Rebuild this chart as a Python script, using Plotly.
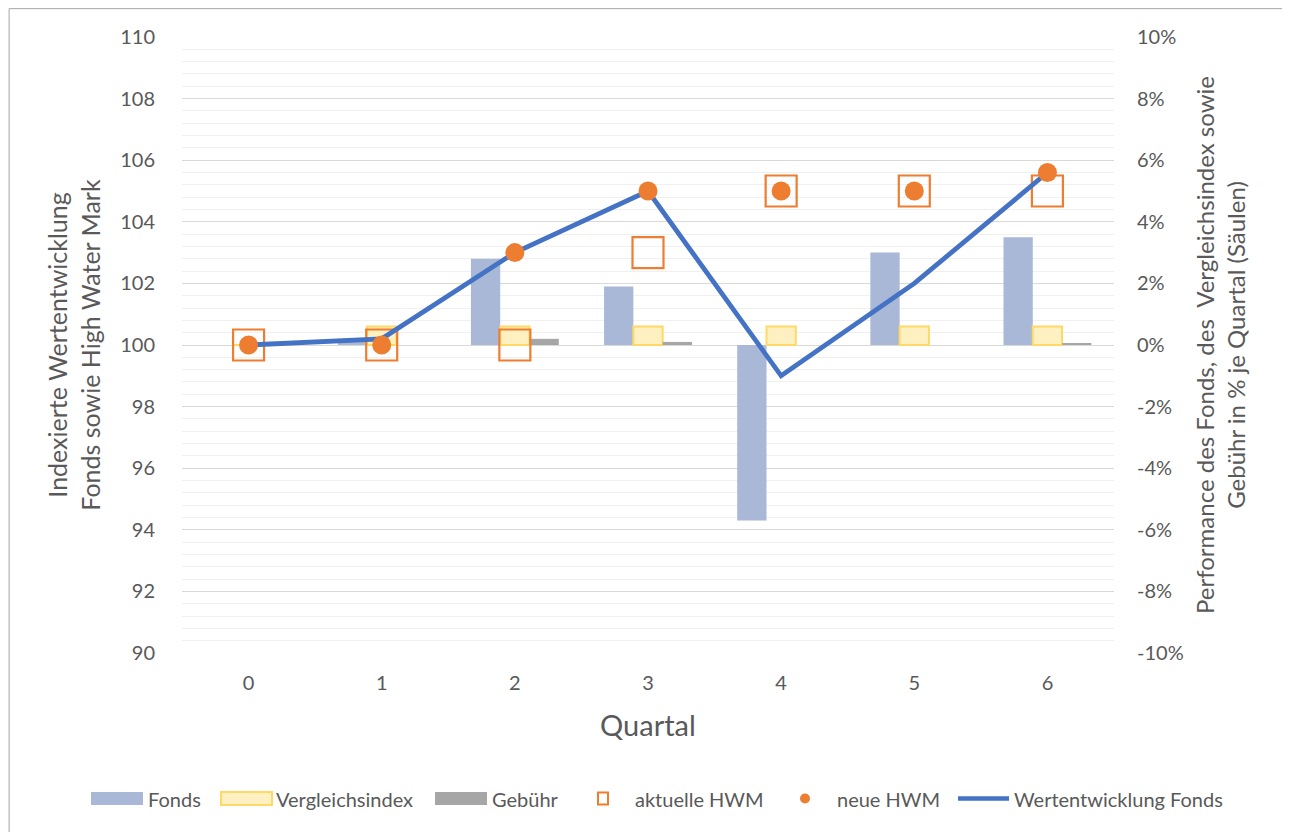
import plotly.graph_objects as go

quartal = [0, 1, 2, 3, 4, 5, 6]
fonds = [0.0, 0.002, 0.028, 0.019, -0.057, 0.030, 0.035]
vergleichsindex = [0.0, 0.006, 0.006, 0.006, 0.006, 0.006, 0.006]
gebuehr = [0.0, 0.0, 0.002, 0.001, 0.0, 0.0, 0.0005]
aktuelle_hwm = [100, 100, 100, 103, 105, 105, 105]
neue_hwm = [100, 100, 103, 105, 105, 105, 105.6]
wertentwicklung = [100, 100.2, 103, 105, 99, 102, 105.6]

pct_tickvals = [-0.10, -0.08, -0.06, -0.04, -0.02, 0.0, 0.02, 0.04, 0.06, 0.08, 0.10]
pct_ticktext = ["-10%", "-8%", "-6%", "-4%", "-2%", "0%", "2%", "4%", "6%", "8%", "10%"]

FONT = "Lato"
GREY = "#595959"
C_FONDS = "#a8b8d6"
C_IDX_FILL = "#fff0c1"
C_IDX_LINE = "#ffd966"
C_FEE = "#a6a6a6"
C_HWM = "#ed7d31"
C_LINE = "#4472c4"

# plot-area geometry in page pixels (for the hand-drawn legend)
PL, PW, PB, PH = 182, 932, 653, 616


def px(x):
    return (x - PL) / PW


def py(y):
    return (PB - y) / PH


fig = go.Figure()
fig.add_trace(go.Bar(x=quartal, y=fonds, name="Fonds", marker=dict(color=C_FONDS, line=dict(width=0)),
                     yaxis="y"))
fig.add_trace(go.Bar(x=quartal, y=vergleichsindex, name="Vergleichsindex",
                     marker=dict(color=C_IDX_FILL, line=dict(color=C_IDX_LINE, width=2)), yaxis="y"))
fig.add_trace(go.Bar(x=quartal, y=gebuehr, name="Gebühr", marker=dict(color=C_FEE, line=dict(width=0)),
                     yaxis="y"))
fig.add_trace(go.Scatter(x=quartal, y=aktuelle_hwm, name="aktuelle HWM", mode="markers",
                         marker=dict(symbol="square-open", size=31, color=C_HWM, line=dict(width=2.2)),
                         yaxis="y2"))
fig.add_trace(go.Scatter(x=quartal, y=wertentwicklung, name="Wertentwicklung Fonds", mode="lines",
                         line=dict(color=C_LINE, width=4.8), yaxis="y2"))
fig.add_trace(go.Scatter(x=quartal, y=neue_hwm, name="neue HWM", mode="markers",
                         marker=dict(symbol="circle", size=19, color=C_HWM), yaxis="y2"))

# hand-drawn legend (Excel style) below the plot
LY = 798.5
shapes = [dict(type="rect", xref="paper", yref="paper", x0=-0.1855, x1=1.4, y0=-0.5, y1=1.046,
               line=dict(color="#a6a6a6", width=1), fillcolor="rgba(0,0,0,0)", layer="below")]
annotations = []
legend_items = [
    ("rect", 91, 143, dict(color=C_FONDS, width=0), C_FONDS, "Fonds", 147),
    ("rect", 221, 272, dict(color=C_IDX_LINE, width=2), C_IDX_FILL, "Vergleichsindex", 275),
    ("rect", 435, 487, dict(color=C_FEE, width=0), C_FEE, "Gebühr", 491),
    ("square", 598, 608, dict(color=C_HWM, width=2), "white", "aktuelle HWM", 634),
    ("circle", 800, 810, dict(color=C_HWM, width=0), C_HWM, "neue HWM", 836),
    ("line", 958, 1009, dict(color=C_LINE, width=4.5), None, "Wertentwicklung Fonds", 1013),
]
for kind, xa, xb, ln, fill, label, tx in legend_items:
    if kind == "rect":
        shapes.append(dict(type="rect", xref="paper", yref="paper", x0=px(xa), x1=px(xb),
                           y0=py(LY + 6.5), y1=py(LY - 6.5), line=ln, fillcolor=fill))
    elif kind == "square":
        shapes.append(dict(type="rect", xref="paper", yref="paper", x0=px(xa), x1=px(xb),
                           y0=py(LY + 6), y1=py(LY - 6), line=ln, fillcolor=fill))
    elif kind == "circle":
        shapes.append(dict(type="circle", xref="paper", yref="paper", x0=px(xa), x1=px(xb),
                           y0=py(LY + 5), y1=py(LY - 5), line=ln, fillcolor=fill))
    else:
        shapes.append(dict(type="line", xref="paper", yref="paper", x0=px(xa), x1=px(xb),
                           y0=py(LY), y1=py(LY), line=ln))
    annotations.append(dict(text=label, xref="paper", yref="paper", x=px(tx), y=py(LY),
                            xanchor="left", yanchor="middle", showarrow=False,
                            font=dict(family=FONT, size=20, color=GREY), borderpad=0))

fig.update_layout(
    width=1282, height=824,
    margin=dict(l=174, r=176, t=29, b=179, autoexpand=False),
    paper_bgcolor="white", plot_bgcolor="white",
    font=dict(family=FONT, color=GREY, size=20),
    barmode="group", bargap=0.34, bargroupgap=0,
    showlegend=False,
    xaxis=dict(type="category", tickfont=dict(size=20), showgrid=False, showline=False,
               ticks="", ticklabelstandoff=16,
               title=dict(text="Quartal", font=dict(size=29, color=GREY), standoff=22)),
    yaxis=dict(range=[-0.1, 0.1], tickvals=pct_tickvals, ticktext=pct_ticktext, side="right",
               showgrid=True, gridcolor="#d9d9d9", gridwidth=1, zeroline=False,
               minor=dict(dtick=0.004, showgrid=True, gridcolor="#f0f0f0", gridwidth=1),
               ticks="", ticklabelstandoff=22, tickfont=dict(size=20),
               title=dict(text="Performance des Fonds, des  Vergleichsindex sowie<br>Gebühr in % je Quartal (Säulen)",
                          font=dict(size=24, color=GREY), standoff=14)),
    yaxis2=dict(range=[90, 110], dtick=2, side="left", overlaying="y", showgrid=False, zeroline=False,
                ticks="", ticklabelstandoff=26, tickfont=dict(size=20),
                title=dict(text="Indexierte Wertentwicklung<br>Fonds sowie High Water Mark",
                           font=dict(size=25, color=GREY), standoff=12)),
    shapes=shapes,
    annotations=annotations,
)

fig.write_html("out.html")
